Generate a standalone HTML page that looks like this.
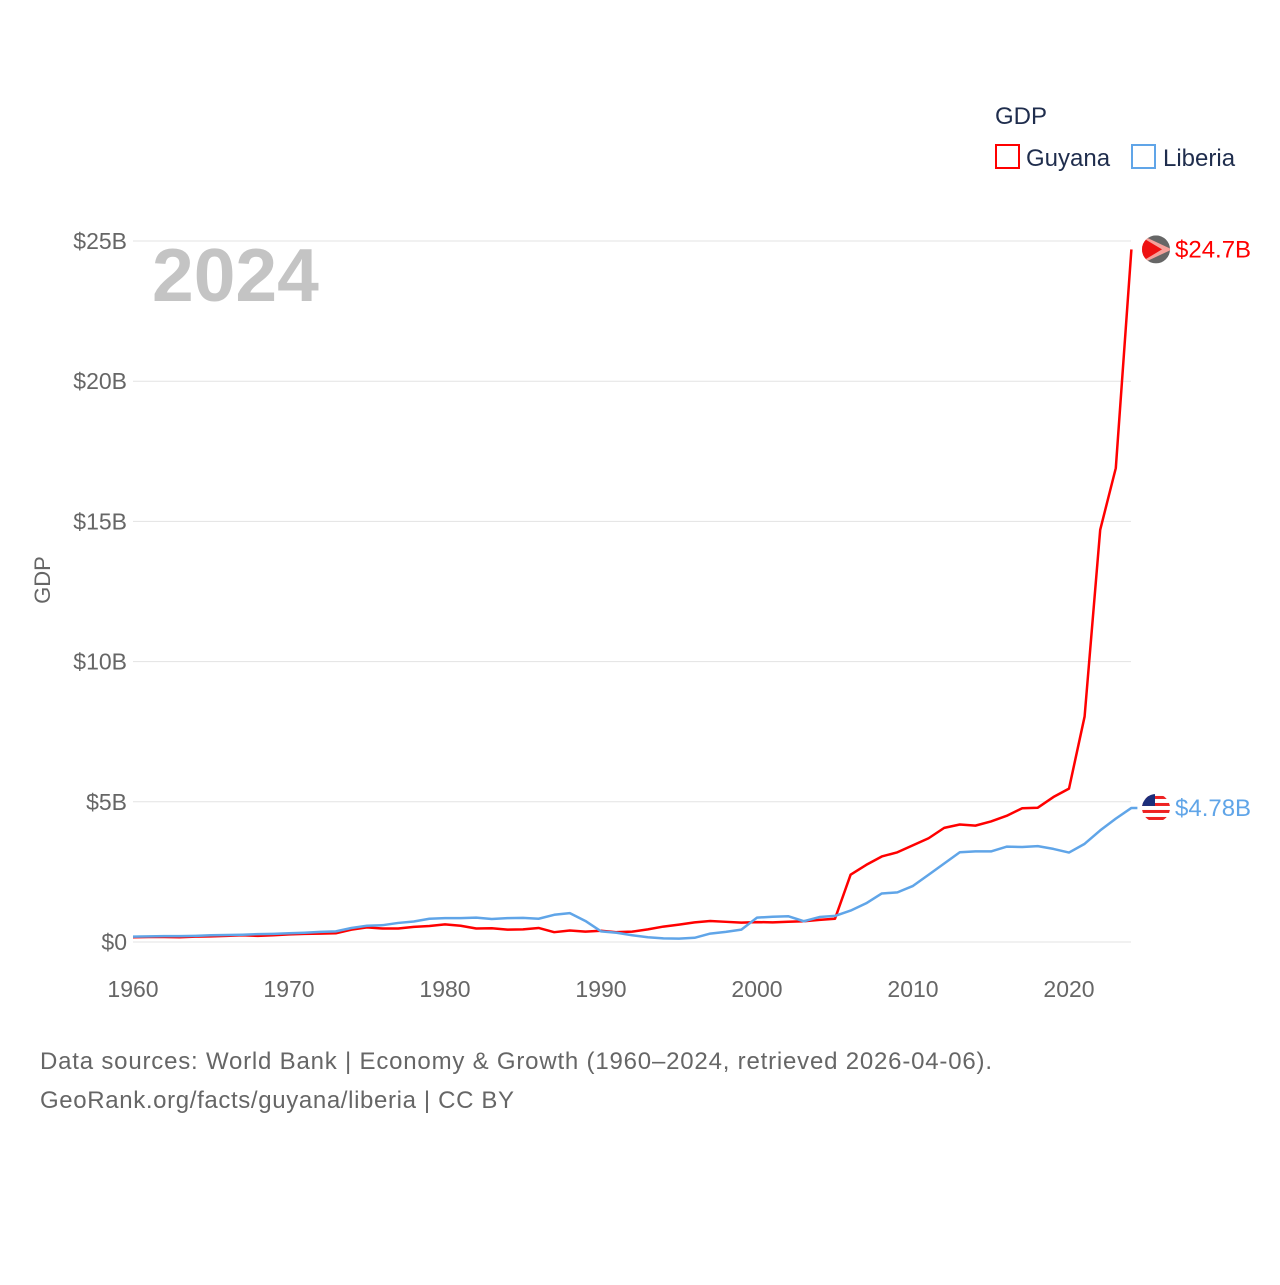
<!DOCTYPE html>
<html><head><meta charset="utf-8"><style>
body{margin:0;background:#fff;font-family:"Liberation Sans",sans-serif}
svg text{font-family:"Liberation Sans",sans-serif}
</style></head><body>
<svg id="chart" width="1280" height="1280" viewBox="0 0 1280 1280">
<defs>
<clipPath id="clipG"><circle id="cg" cx="1156" cy="249" r="14"/></clipPath>
<clipPath id="clipL"><circle id="cl" cx="1156" cy="808" r="14"/></clipPath>
</defs>
<g id="grid"></g>
<g id="axes"></g>
<text x="152" y="301" font-size="75" font-weight="bold" fill="#c4c4c4">2024</text>
<text transform="translate(50,580) rotate(-90)" text-anchor="middle" font-size="22" fill="#666">GDP</text>
<g>
<text x="995" y="124" font-size="24" fill="#1f2d4d">GDP</text>
<rect x="996" y="145" width="23" height="23" fill="none" stroke="#ff0000" stroke-width="2"/>
<text x="1026" y="166" font-size="24" fill="#1f2d4d">Guyana</text>
<rect x="1132" y="145" width="23" height="23" fill="none" stroke="#60a5e8" stroke-width="2"/>
<text x="1163" y="166" font-size="24" fill="#1f2d4d">Liberia</text>
</g>
<g id="series"></g>
<text x="40" y="1069" font-size="24" fill="#666" textLength="952">Data sources: World Bank | Economy &amp; Growth (1960–2024, retrieved 2026-04-06).</text>
<text x="40" y="1108" font-size="24" fill="#666" textLength="474">GeoRank.org/facts/guyana/liberia | CC BY</text>
</svg>
<script>
const years = [];
for (let y = 1960; y <= 2024; y++) years.push(y);
const guyana = [0.17,0.18,0.18,0.17,0.19,0.2,0.22,0.24,0.22,0.24,0.27,0.29,0.3,0.31,0.44,0.52,0.48,0.48,0.54,0.57,0.63,0.58,0.48,0.49,0.44,0.45,0.5,0.35,0.41,0.37,0.4,0.35,0.37,0.45,0.55,0.62,0.7,0.75,0.72,0.69,0.71,0.7,0.72,0.74,0.79,0.83,2.4,2.75,3.05,3.2,3.45,3.7,4.07,4.19,4.15,4.3,4.5,4.77,4.79,5.17,5.47,8.04,14.7,16.9,24.7];
const liberia = [0.19,0.2,0.21,0.21,0.22,0.24,0.25,0.26,0.28,0.29,0.31,0.33,0.36,0.38,0.5,0.58,0.6,0.68,0.73,0.83,0.85,0.85,0.87,0.82,0.85,0.86,0.83,0.97,1.03,0.75,0.38,0.33,0.24,0.17,0.13,0.12,0.15,0.3,0.36,0.44,0.87,0.9,0.92,0.74,0.89,0.93,1.12,1.38,1.73,1.77,2.0,2.4,2.8,3.2,3.23,3.23,3.4,3.39,3.42,3.32,3.19,3.5,3.98,4.4,4.78];
const yTicks = [0,5,10,15,20,25];
const yTickLabels = ["$0","$5B","$10B","$15B","$20B","$25B"];
const xTicks = [1960,1970,1980,1990,2000,2010,2020];
const endLabels = ["$24.7B","$4.78B"];

const NS = "http://www.w3.org/2000/svg";
const xs = y => 133 + (y - 1960) * 15.6;
const ys = v => 942 - v * 28.04;
function mk(tag, attrs, parent, txt) {
  const e = document.createElementNS(NS, tag);
  for (const k in attrs) e.setAttribute(k, attrs[k]);
  if (txt !== undefined) e.textContent = txt;
  parent.appendChild(e);
  return e;
}
const grid = document.getElementById('grid');
const axes = document.getElementById('axes');
yTicks.forEach((t, i) => {
  const l = mk('line', {x1: 133, x2: 1131, y1: ys(t), y2: ys(t), stroke: '#e3e3e3', 'stroke-width': 1}, grid);
  
  
  const tx = mk('text', {x: 127, y: ys(t) + 8, 'text-anchor': 'end', 'font-size': 23, fill: '#666'}, axes, yTickLabels[i]);
  
  
});
xTicks.forEach(t => {
  const tx = mk('text', {x: xs(t), y: 997, 'text-anchor': 'middle', 'font-size': 23, fill: '#666'}, axes, String(t));
  
  
});
const series = document.getElementById('series');
[[guyana, '#ff0000', 'guyana', endLabels[0]], [liberia, '#60a5e8', 'liberia', endLabels[1]]].forEach(([d, c, n, lab]) => {
  const last = d[d.length - 1];
  const cy = ys(last);
  let pts = d.map((v, i) => xs(years[i]) + ',' + ys(v)).join(' ');
  if (n === 'liberia') pts += ' ' + (xs(2024) + 6) + ',' + cy;
  const p = mk('polyline', {points: pts, fill: 'none', stroke: c, 'stroke-width': 2.5, 'stroke-linejoin': 'round'}, series);
  
  
  document.getElementById(n === 'guyana' ? 'cg' : 'cl').setAttribute('cy', cy);
  const g = mk('g', {'clip-path': n === 'guyana' ? 'url(#clipG)' : 'url(#clipL)'}, series);
  
  
  if (n === 'guyana') {
    mk('rect', {x: 1142, y: cy - 14, width: 28, height: 28, fill: '#666'}, g);
    mk('path', {d: `M1142 ${cy-14} L1172 ${cy} L1142 ${cy+14} Z`, fill: '#f4a'}, g).setAttribute('fill', '#f5a09a');
    mk('path', {d: `M1142 ${cy-12} L1162 ${cy} L1142 ${cy+12} Z`, fill: '#ee1111'}, g);
  } else {
    mk('rect', {x: 1142, y: cy - 14, width: 28, height: 28, fill: '#fff'}, g);
    for (let k = -3; k <= 3; k += 2) mk('rect', {x: 1142, y: cy + k * 3.5 - 1.5, width: 28, height: 3, fill: '#e22'}, g);
    mk('rect', {x: 1142, y: cy - 14, width: 13, height: 12, fill: '#1c2e7a'}, g);
  }
  const t = mk('text', {x: 1175, y: cy + 8, 'font-size': 24, fill: c}, series, lab);
  
  
});
</script>
</body></html>
